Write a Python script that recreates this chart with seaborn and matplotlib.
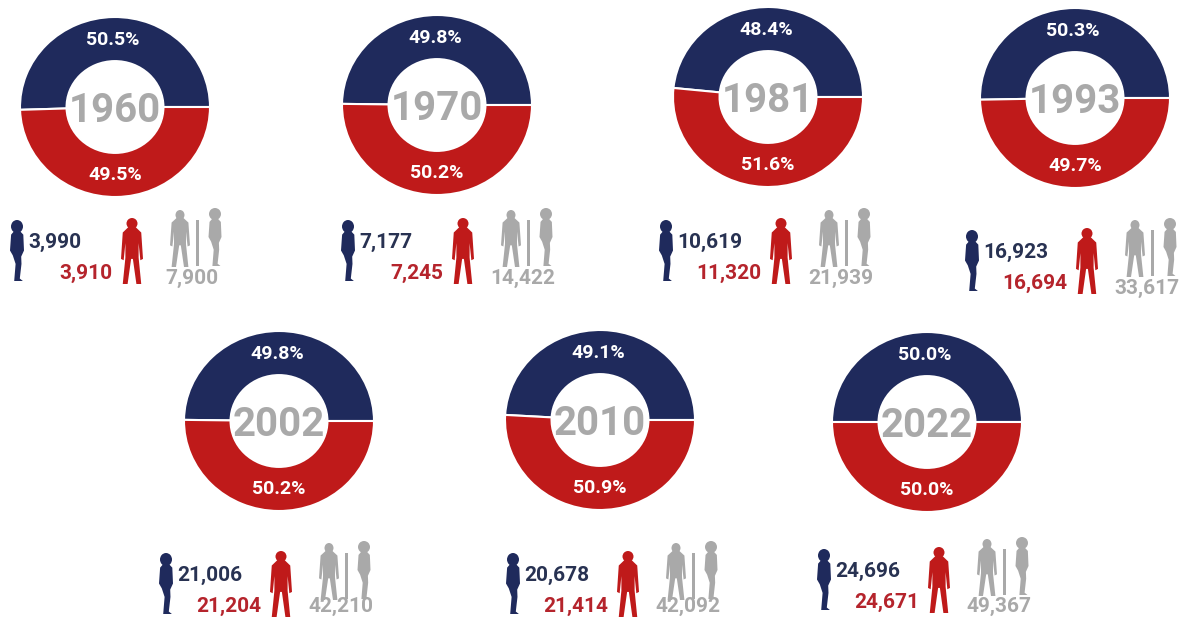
import matplotlib
matplotlib.use("Agg")
import matplotlib.pyplot as plt
from matplotlib.patches import Ellipse, Polygon, Rectangle
import seaborn as sns

# Census data
years = [1960, 1970, 1981, 1993, 2002, 2010, 2022]
women_share = [50.5, 49.8, 48.4, 50.3, 49.8, 49.1, 50.0]
men_share = [49.5, 50.2, 51.6, 49.7, 50.2, 50.9, 50.0]
women = ["3,990", "7,177", "10,619", "16,923", "21,006", "20,678", "24,696"]
men = ["3,910", "7,245", "11,320", "16,694", "21,204", "21,414", "24,671"]
total = ["7,900", "14,422", "21,939", "33,617", "42,210", "42,092", "49,367"]

# Layout in image pixels
W, H = 1185, 618
donut_x = [115, 437, 768, 1075, 279, 600, 927]
donut_y = [107, 105, 97, 98, 421, 420, 422]
icon_x = [17, 348, 666, 972, 166, 513, 824]
icon_y = [220, 220, 220, 230, 553, 553, 549]
RX, RY = 95, 90

sns.set_theme(style="white")
plt.rcParams["font.family"] = ["Roboto", "DejaVu Sans"]
navy, red, grey = sns.color_palette(["#1f2a5c", "#bf1a1a", "#a9a9a9"])
NAVY_TXT, RED_TXT = "#283252", "#b5242c"

# outline of the icons, unit box, y down
MAN = [(-.14, .13), (.14, .13), (.42, .22), (.5, .62), (.38, .64), (.3, .38), (.3, .6),
       (.42, 1), (.2, 1), (.04, .62), (-.04, .62), (-.2, 1), (-.42, 1), (-.3, .6),
       (-.3, .38), (-.38, .64), (-.5, .62), (-.42, .22)]
WOMAN = [(-.12, .16), (.12, .16), (.45, .24), (.5, .5), (.3, .6), (.32, .72), (.2, .96),
         (.42, 1), (-.2, 1), (-.1, .72), (-.3, .58), (-.5, .5), (-.42, .24)]


def to_y(py):
    return H - py


def person(ax, shape, cx, top, w, h, color, head_w, head_h):
    pts = [(cx + x * w, to_y(top + y * h)) for x, y in shape]
    ax.add_patch(Polygon(pts, closed=True, fc=color, ec="none"))
    ax.add_patch(Ellipse((cx, to_y(top + head_h / 2)), head_w, head_h, fc=color, ec="none"))


fig = plt.figure(figsize=(W / 100, H / 100), dpi=100)
ax = fig.add_axes([0, 0, 1, 1])
ax.set_zorder(5)

for i, year in enumerate(years):
    cx, cy = donut_x[i], donut_y[i]
    # donuts are a bit squashed in the original, so each gets its own axes
    dax = fig.add_axes([(cx - RX) / W, to_y(cy + RY) / H, 2 * RX / W, 2 * RY / H])
    dax.pie([women_share[i], men_share[i]], colors=[navy, red], startangle=0, counterclock=True,
            radius=1, frame=True,
            wedgeprops=dict(width=0.49, edgecolor="white", linewidth=1.5))
    dax.set_aspect("auto")
    dax.set_xlim(-1, 1)
    dax.set_ylim(-1, 1)
    dax.axis("off")

    ax.text(cx - 2, to_y(cy - 67), f"{women_share[i]:.1f}%", color="white", fontsize=14,
            fontweight="bold", ha="center", va="center")
    ax.text(cx, to_y(cy + 68), f"{men_share[i]:.1f}%", color="white", fontsize=14,
            fontweight="bold", ha="center", va="center")
    ax.text(cx, to_y(cy + 4), str(year), color=grey, fontsize=29, fontweight="bold",
            ha="center", va="center")

    x0, y0 = icon_x[i], icon_y[i]
    person(ax, WOMAN, x0, y0, 14, 61, navy, 12, 13)
    person(ax, MAN, x0 + 115, y0 - 2, 22, 66, red, 11, 11)
    person(ax, MAN, x0 + 163, y0 - 10, 20, 57, grey, 9, 10)
    ax.add_patch(Rectangle((x0 + 179, to_y(y0 + 46)), 2.5, 46, fc=grey, ec="none"))
    person(ax, WOMAN, x0 + 198, y0 - 12, 13, 58, grey, 12, 12)
    ax.text(x0 + 11, to_y(y0 + 22), women[i], color=NAVY_TXT, fontsize=15, fontweight="bold",
            ha="left", va="center")
    ax.text(x0 + 95, to_y(y0 + 53), men[i], color=RED_TXT, fontsize=15, fontweight="bold",
            ha="right", va="center")
    # bottom row sits right at the edge, keep the totals inside the picture
    ax.text(x0 + 175, to_y(min(y0 + 58, 606)), total[i], color=grey, fontsize=15, fontweight="bold",
            ha="center", va="center")

ax.set_xlim(0, W)
ax.set_ylim(0, H)
ax.axis("off")
fig.savefig("out.png", dpi=100)
